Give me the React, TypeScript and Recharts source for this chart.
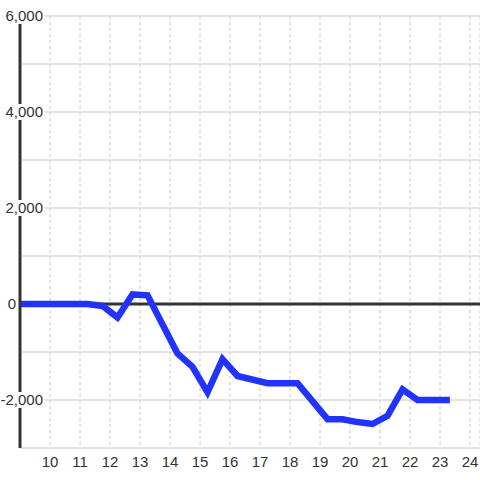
import React from 'react';
import {
  LineChart,
  Line,
  XAxis,
  YAxis,
  CartesianGrid,
  ReferenceLine,
} from 'recharts';

// hour of day and running balance
const hours = [9, 9.5, 10, 10.5, 11, 11.25, 11.75, 12.25, 12.75, 13.25, 14.25, 14.75, 15.25, 15.75, 16.25, 17.25, 17.75, 18.25, 19.25, 19.75, 20.25, 20.75, 21.25, 21.75, 22.25, 22.75, 23.33];
const balance = [0, 0, 0, 0, 0, 0, -40, -280, 200, 180, -1030, -1310, -1840, -1150, -1500, -1650, -1650, -1650, -2400, -2400, -2460, -2500, -2330, -1780, -2000, -2000, -2000];

const xTicks = [10, 11, 12, 13, 14, 15, 16, 17, 18, 19, 20, 21, 22, 23, 24];
const yTicks = [-3000, -2000, -1000, 0, 1000, 2000, 3000, 4000, 5000, 6000];

const data = hours.map((h, i) => ({ h, v: balance[i] }));

const FONT = '"Liberation Sans", Arial, sans-serif';
const fmt = (v: number) => v.toLocaleString('en-US');

const YTick = (props: any) => {
  const { x, y, payload } = props;
  const v = payload.value as number;
  if (v % 2000 !== 0 || v === -3000) return null;
  // axis sits at x + 8 (tickSize + tickMargin)
  const axisX = x + 8;
  if (v === 0) {
    return (
      <text x={axisX - 4} y={y} dy="0.355em" textAnchor="end" fill="#333" fontSize={15} fontFamily={FONT}>
        {fmt(v)}
      </text>
    );
  }
  return (
    <g>
      <rect x={axisX - 17} y={y - 8} width={42} height={16} fill="#fff" />
      <text x={axisX + 23} y={y} dy="0.355em" textAnchor="end" fill="#333" fontSize={15} fontFamily={FONT}>
        {fmt(v)}
      </text>
    </g>
  );
};

export default function App() {
  return (
    <div style={{ position: 'absolute', left: 0, top: 0, background: '#fff' }}>
      <LineChart
        width={480}
        height={480}
        data={data}
        margin={{ top: 16, right: 0, left: 0, bottom: 2 }}
      >
        <CartesianGrid vertical={false} stroke="#c8c8c8" />
        <CartesianGrid horizontal={false} stroke="#c8c8c8" strokeDasharray="3 3" />
        <XAxis
          dataKey="h"
          type="number"
          domain={[9, 24.333]}
          ticks={xTicks}
          allowDataOverflow
          axisLine={false}
          tickLine={false}
          tick={{ fill: '#333', fontSize: 15, fontFamily: FONT }}
          height={30}
        />
        <YAxis
          type="number"
          domain={[-3000, 6000]}
          ticks={yTicks}
          interval={0}
          width={20}
          axisLine={{ stroke: '#333', strokeWidth: 3 }}
          tickLine={false}
          tick={<YTick />}
        />
        <ReferenceLine y={0} stroke="#333" strokeWidth={3} />
        <Line
          dataKey="v"
          stroke="#2233ff"
          strokeWidth={6.5}
          dot={false}
          activeDot={false}
          strokeLinejoin="miter"
          isAnimationActive={false}
        />
      </LineChart>
    </div>
  );
}
